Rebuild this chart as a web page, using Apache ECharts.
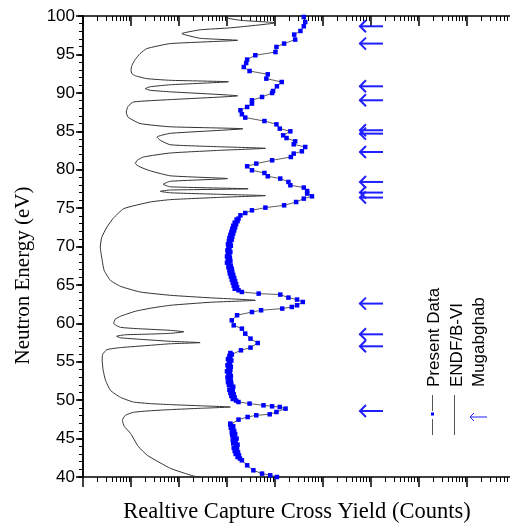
<!DOCTYPE html>
<html><head><meta charset="utf-8">
<script src="https://cdn.jsdelivr.net/npm/echarts@6/dist/echarts.min.js"></script>
<style>html,body{margin:0;padding:0;background:#fff}#c{width:510px;height:523px}</style>
</head><body><div id="c"></div>
<script>
// ENDF/B-VI curve: neutron energy (eV) and log10 of relative yield
const endfE = [40.00,40.13,41.13,42.82,43.99,45.68,46.59,47.37,48.02,48.42,48.62,48.77,48.94,49.11,49.27,49.42,49.55,49.76,50.37,51.28,52.58,53.89,55.19,55.97,56.58,56.84,57.14,57.34,57.49,57.66,57.92,58.12,58.31,58.51,58.60,58.70,58.90,59.09,59.29,59.48,59.97,60.53,60.92,61.57,61.96,62.35,62.74,63.00,63.32,63.65,64.08,64.82,65.60,66.90,68.20,69.93,71.20,72.54,73.67,74.93,75.79,76.10,76.40,76.62,76.79,76.99,77.18,77.35,77.51,77.77,78.10,78.49,78.84,79.20,79.85,80.35,80.79,81.22,81.65,82.17,82.52,82.78,82.98,83.24,83.82,84.25,84.73,85.32,85.58,86.00,86.82,87.51,88.25,88.81,89.12,89.61,90.13,90.33,90.55,90.79,91.05,91.44,91.63,91.85,92.22,92.50,92.93,93.58,94.36,95.11,95.76,96.41,96.84,97.10,97.71,98.20,98.46,99.11,99.44,99.77,100.00];
const endfLogYield = [2.44,2.30,1.82,1.34,1.15,0.99,0.86,0.82,0.88,1.05,1.40,1.82,2.44,3.07,2.44,1.82,1.40,1.05,0.78,0.57,0.47,0.42,0.40,0.41,0.50,0.78,1.40,1.82,2.44,1.82,1.19,0.78,0.70,0.88,1.40,1.82,2.10,1.82,1.19,0.78,0.64,0.67,0.78,1.09,1.40,1.82,2.65,3.59,2.65,1.82,1.19,0.78,0.57,0.44,0.40,0.36,0.39,0.50,0.63,0.85,1.40,1.82,2.86,3.80,2.86,1.82,1.61,1.82,3.44,1.82,1.67,1.82,3.01,1.82,1.40,1.19,1.09,1.13,1.26,1.82,2.86,3.80,2.86,1.82,1.61,1.54,1.82,3.33,1.82,1.19,0.94,0.90,0.94,1.05,1.82,3.22,1.82,1.40,1.30,1.40,1.82,3.03,1.82,1.33,1.09,1.02,1.00,1.02,1.09,1.19,1.33,1.82,3.22,2.44,2.06,2.44,3.07,4.01,3.28,3.00,3.00];

// Present data: neutron energy (eV) and log10 of relative yield
const presentE = [40.00,40.22,40.44,40.87,41.52,42.17,
  42.4,42.6,42.8,43.0,43.2,43.4,43.6,43.8,44.0,44.2,44.4,44.6,44.8,45.0,45.2,45.4,45.6,45.8,46.0,46.2,46.4,46.6,46.8,
  46.95,47.47,47.81,48.03,48.16,48.46,48.90,49.11,49.20,49.33,49.55,49.76,
  49.95,50.15,50.35,50.55,50.75,50.95,51.15,51.35,51.55,51.75,51.95,52.15,52.35,52.55,52.75,52.95,53.15,53.35,53.55,53.75,53.95,54.15,54.35,54.55,54.75,54.95,55.15,55.35,55.55,55.75,55.95,
  56.14,56.49,56.84,57.44,58.01,58.66,59.31,59.74,60.39,61.05,61.47,61.70,61.92,62.13,62.35,62.78,63.09,63.35,63.74,63.87,64.08,
  64.3,64.5,64.7,64.9,65.1,65.3,65.5,65.7,65.9,66.1,66.3,66.5,66.7,66.9,67.1,67.3,67.5,67.7,67.9,68.1,68.3,68.5,68.7,68.9,69.1,69.3,69.5,69.7,69.9,70.1,70.3,70.5,70.7,70.9,71.1,71.3,71.5,71.7,71.9,72.1,72.3,72.5,72.7,72.9,73.1,73.3,73.5,
  73.63,74.06,74.36,74.71,75.06,75.36,75.79,76.23,76.53,76.89,77.22,77.67,77.97,78.40,78.84,79.14,79.57,79.92,80.44,80.79,81.22,81.65,82.09,82.39,82.95,83.30,83.69,84.12,84.47,84.99,85.34,85.90,86.33,86.78,87.21,87.73,88.16,88.60,89.03,89.46,89.98,90.24,90.85,91.41,91.85,92.41,92.84,93.36,93.88,94.33,94.89,95.31,95.97,96.41,96.93,97.58,98.05,98.66,99.22,99.87];
const presentLogYield = [4.04,3.90,3.73,3.55,3.42,3.31,
  3.27,3.22,3.25,3.18,3.23,3.16,3.21,3.14,3.19,3.22,3.13,3.18,3.12,3.20,3.15,3.11,3.17,3.10,3.15,3.12,3.08,3.13,3.07,
  3.07,3.24,3.43,3.61,3.89,4.03,4.22,4.10,3.94,3.76,3.47,3.24,
  3.19,3.12,3.16,3.09,3.14,3.07,3.12,3.05,3.10,3.13,3.04,3.09,3.02,3.08,3.05,3.01,3.08,3.03,3.06,3.00,3.07,3.03,3.08,3.01,3.06,3.04,3.09,3.02,3.07,3.05,3.10,
  3.07,3.29,3.49,3.64,3.49,3.38,3.31,3.14,3.10,3.21,3.52,3.71,4.15,4.35,4.46,4.58,4.46,4.28,4.11,3.66,3.31,
  3.24,3.16,3.21,3.14,3.19,3.12,3.17,3.10,3.15,3.08,3.13,3.06,3.11,3.05,3.10,3.03,3.08,3.04,3.00,3.07,3.02,3.06,3.00,3.05,3.02,3.07,3.01,3.05,3.03,3.08,3.02,3.07,3.04,3.10,3.05,3.11,3.07,3.13,3.09,3.15,3.11,3.17,3.13,3.19,3.16,3.22,3.20,
  3.24,3.28,3.38,3.52,3.80,4.19,4.44,4.60,4.77,4.67,4.67,4.60,4.32,4.28,4.11,3.85,3.78,3.52,3.42,3.61,3.94,4.33,4.39,4.56,4.63,4.39,4.42,4.24,4.17,4.32,4.10,4.03,3.78,3.38,3.31,3.28,3.42,3.52,3.52,3.73,3.94,3.96,4.04,4.14,3.82,3.85,3.47,3.35,3.40,3.42,3.59,4.01,4.03,4.19,4.42,4.40,4.53,4.60,4.63,4.60];

// Mughabghab resonance energies (eV)
const mugabghabE = [48.59,57.01,58.57,62.57,76.37,77.02,78.40,82.30,84.69,85.13,89.03,90.85,96.41,98.66];

const yTicks = [40,45,50,55,60,65,70,75,80,85,90,95,100];

// layout / style constants
const X_MAX = 8.917;
const ARROW_TIP = 5.76, ARROW_TAIL = 6.25;
const majorX = [0,1,2,3,4,5,6,7,8];
const minorX = [];
for (let k = 0; k < 9; k++) for (let m = 2; m < 10; m++) { const v = k + Math.log10(m); if (v < X_MAX) minorX.push(v); }

const chart = echarts.init(document.getElementById('c'), null, {renderer: 'canvas'});
const black = '#000';
const xBase = {type: 'value', min: 0, max: X_MAX, gridIndex: 0, splitLine: {show: false}, axisLabel: {show: false}};
const blue = '#1f1fff';

chart.setOption({
  animation: false,
  backgroundColor: '#fff',
  grid: {left: 83, top: 16, right: -1, bottom: 46, containLabel: false, outerBoundsMode: 'none'},
  xAxis: [
    Object.assign({}, xBase, {position: 'bottom',
      axisLine: {show: true, lineStyle: {color: black, width: 1.5}},
      axisTick: {show: true, inside: false, length: 10, customValues: majorX, lineStyle: {color: black, width: 1.5}},
      name: 'Realtive Capture Cross Yield (Counts)', nameLocation: 'middle', nameGap: 24,
      nameTextStyle: {fontFamily: 'Liberation Serif', fontSize: 22.5, color: black}}),
    Object.assign({}, xBase, {position: 'bottom', axisLine: {show: false},
      axisTick: {show: true, inside: false, length: 5, customValues: minorX, lineStyle: {color: black, width: 1}}}),
    Object.assign({}, xBase, {position: 'top',
      axisLine: {show: true, lineStyle: {color: black, width: 1.5}},
      axisTick: {show: true, inside: true, length: 10, customValues: majorX, lineStyle: {color: black, width: 1.5}}}),
    Object.assign({}, xBase, {position: 'top', axisLine: {show: false},
      axisTick: {show: true, inside: true, length: 5, customValues: minorX, lineStyle: {color: black, width: 1}}})
  ],
  yAxis: [
    {type: 'value', min: 40, max: 100, interval: 5, position: 'left',
      axisLine: {show: true, lineStyle: {color: black, width: 1.5}},
      axisTick: {show: true, inside: false, length: 7, lineStyle: {color: black, width: 1.5}},
      minorTick: {show: true, splitNumber: 5, length: 4, lineStyle: {color: black, width: 1}},
      axisLabel: {fontFamily: 'Liberation Sans', fontSize: 17, color: black, margin: 8, customValues: yTicks},
      splitLine: {show: false},
      name: 'Neutron Energy (eV)', nameLocation: 'middle', nameGap: 49,
      nameTextStyle: {fontFamily: 'Liberation Serif', fontSize: 21, color: black, padding: [0, 58, 0, 0]}},
    {type: 'value', min: 40, max: 100, interval: 5, position: 'right',
      axisLine: {show: true, lineStyle: {color: black, width: 1.5}},
      axisTick: {show: true, inside: true, length: 5, lineStyle: {color: black, width: 1.5}},
      axisLabel: {show: false}, splitLine: {show: false}}
  ],
  series: [
    {type: 'line', name: 'ENDF/B-VI', xAxisIndex: 0, yAxisIndex: 0,
      data: endfE.map((e, i) => [endfLogYield[i], e]), smooth: 0.15,
      symbol: 'none', showSymbol: false, lineStyle: {color: '#333', width: 1}, z: 2, silent: true},
    {type: 'line', name: 'Present Data', xAxisIndex: 0, yAxisIndex: 0,
      data: presentE.map((e, i) => [presentLogYield[i], e]),
      symbol: 'rect', symbolSize: 4.5, itemStyle: {color: '#0000ff'},
      lineStyle: {color: '#333', width: 0.8}, z: 3, silent: true},
    {type: 'custom', name: 'Mugabghab', xAxisIndex: 0, yAxisIndex: 0,
      data: mugabghabE.map(e => [ARROW_TIP, e]), encode: {x: 0, y: 1}, z: 4, silent: true,
      renderItem: function (params, api) {
        const tip = api.coord([ARROW_TIP, api.value(1)]);
        const tail = api.coord([ARROW_TAIL, api.value(1)]);
        return {type: 'group', children: [
          {type: 'line', shape: {x1: tip[0], y1: tip[1], x2: tail[0], y2: tail[1]}, style: {stroke: blue, lineWidth: 2}},
          {type: 'polyline', shape: {points: [[tip[0] + 6.5, tip[1] - 6], [tip[0] + 0.5, tip[1]], [tip[0] + 6.5, tip[1] + 6]]},
            style: {stroke: blue, lineWidth: 2, fill: null}}
        ]};
      }}
  ],
  graphic: [
    {type: 'text', x: 434, y: 387, rotation: Math.PI / 2, style: {text: 'Present Data', font: '17px "Liberation Sans"', fill: black, align: 'left', verticalAlign: 'middle'}},
    {type: 'text', x: 457, y: 387, rotation: Math.PI / 2, style: {text: 'ENDF/B-VI', font: '17px "Liberation Sans"', fill: black, align: 'left', verticalAlign: 'middle'}},
    {type: 'text', x: 479, y: 387, rotation: Math.PI / 2, style: {text: 'Mugabghab', font: '17px "Liberation Sans"', fill: black, align: 'left', verticalAlign: 'middle'}},
    {type: 'line', shape: {x1: 432.5, y1: 395, x2: 432.5, y2: 411}, style: {stroke: '#555', lineWidth: 1}},
    {type: 'line', shape: {x1: 432.5, y1: 419, x2: 432.5, y2: 435}, style: {stroke: '#555', lineWidth: 1}},
    {type: 'rect', shape: {x: 431, y: 412.5, width: 3, height: 3}, style: {fill: '#0000ff'}},
    {type: 'line', shape: {x1: 454.5, y1: 395, x2: 454.5, y2: 435}, style: {stroke: '#555', lineWidth: 1}},
    {type: 'line', shape: {x1: 470, y1: 417, x2: 487, y2: 417}, style: {stroke: blue, lineWidth: 1}},
    {type: 'polyline', shape: {points: [[474, 413], [470, 417], [474, 421]]}, style: {stroke: blue, lineWidth: 1, fill: null}}
  ]
});
</script>
</body></html>
